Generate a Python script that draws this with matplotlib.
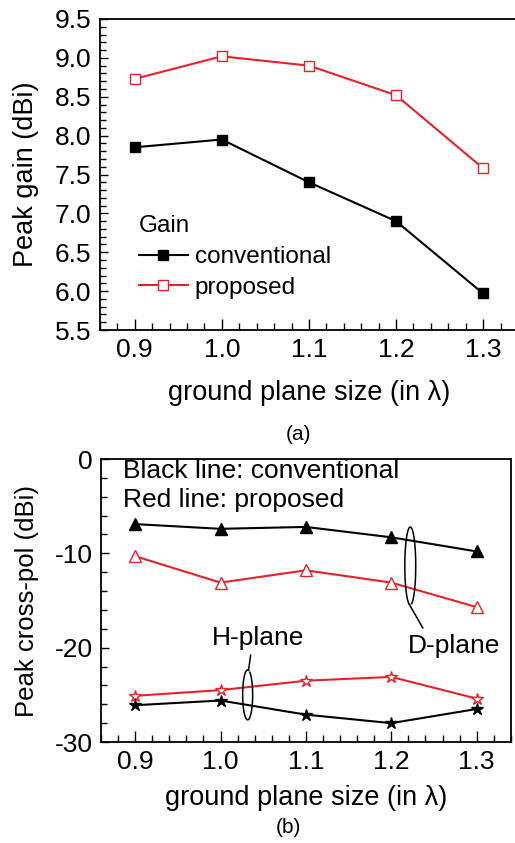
"""Peak gain and peak cross-pol versus ground plane size."""

import matplotlib
matplotlib.use("Agg")
import matplotlib.pyplot as plt
import numpy as np
from matplotlib.ticker import MultipleLocator, FormatStrFormatter

plt.rcParams["font.family"] = ["Liberation Sans", "DejaVu Sans"]
plt.rcParams["axes.unicode_minus"] = False

RED = "#e8202a"

# ground plane size in wavelengths
size = [0.9, 1.0, 1.1, 1.2, 1.3]

# peak gain (dBi)
gain_conventional = [7.85, 7.95, 7.40, 6.90, 5.97]
gain_proposed = [8.73, 9.02, 8.90, 8.52, 7.58]

# peak cross-pol (dBi)
dplane_conventional = [-6.9, -7.4, -7.2, -8.3, -9.8]
dplane_proposed = [-10.3, -13.1, -11.8, -13.1, -15.7]
hplane_conventional = [-26.1, -25.6, -27.1, -28.0, -26.5]
hplane_proposed = [-25.1, -24.5, -23.5, -23.1, -25.4]

xticks = [0.9, 1.0, 1.1, 1.2, 1.3]
xlabel = "ground plane size (in \u03bb)"


def style_axes(ax):
    ax.set_xlim(0.86, 1.34)
    ax.set_xticks(xticks)
    ax.xaxis.set_minor_locator(MultipleLocator(0.02))
    ax.xaxis.set_major_formatter(FormatStrFormatter("%.1f"))
    ax.tick_params(which="both", direction="in", top=False, right=False,
                   width=1.0, labelsize=19, pad=6)
    ax.tick_params(axis="x", which="major", length=8)
    ax.tick_params(axis="x", which="minor", length=5)
    ax.tick_params(axis="y", which="major", length=6)
    ax.tick_params(axis="y", which="minor", length=4)
    for sp in ax.spines.values():
        sp.set_linewidth(1.3)


def bracket(ax, cx, cy, a, b, t0, t1, tail_end, tail_at_start):
    # narrow loop drawn as a partial ellipse with a leader line off one end
    t = np.radians(np.linspace(t0, t1, 120))
    xs = cx + a * np.cos(t)
    ys = cy + b * np.sin(t)
    ax.plot(xs, ys, color="black", lw=1.1)
    i = 0 if tail_at_start else -1
    ax.plot([xs[i], tail_end[0]], [ys[i], tail_end[1]], color="black", lw=1.1)


fig = plt.figure(figsize=(5.15, 8.43), dpi=100)

# (a) peak gain
ax1 = fig.add_axes([0.194, 0.6085, 0.8117, 0.369])
ax1.plot(size, gain_conventional, color="black", lw=1.5, marker="s", ms=6.5,
         mfc="black", mec="black", label="conventional")
ax1.plot(size, gain_proposed, color=RED, lw=1.5, marker="s", ms=6.5,
         mfc="white", mec=RED, label="proposed")
style_axes(ax1)
ax1.set_ylim(5.5, 9.5)
ax1.yaxis.set_major_locator(MultipleLocator(0.5))
ax1.yaxis.set_minor_locator(MultipleLocator(0.1))
ax1.yaxis.set_major_formatter(FormatStrFormatter("%.1f"))
ax1.set_ylabel("Peak gain (dBi)", fontsize=19.5)
ax1.yaxis.set_label_coords(-0.145, 0.5)
ax1.set_xlabel(xlabel, fontsize=19.5, labelpad=13)
leg = ax1.legend(title="Gain", loc="lower left", bbox_to_anchor=(0.07, 0.07),
                 frameon=False, fontsize=17.5, title_fontsize=17.5,
                 handlelength=2.0, handletextpad=0.3, labelspacing=0.35,
                 borderaxespad=0)
leg._legend_box.align = "left"
fig.text(0.579, 0.484, "(a)", fontsize=15, ha="center", va="center")

# (b) peak cross-pol
ax2 = fig.add_axes([0.196, 0.1198, 0.796, 0.3357])
ax2.plot(size, dplane_conventional, color="black", lw=1.5, marker="^", ms=8,
         mfc="black", mec="black")
ax2.plot(size, dplane_proposed, color=RED, lw=1.5, marker="^", ms=8,
         mfc="white", mec=RED)
ax2.plot(size, hplane_proposed, color=RED, lw=1.5, marker="*", ms=9,
         mfc="white", mec=RED, mew=1.0)
ax2.plot(size, hplane_conventional, color="black", lw=1.5, marker="*", ms=9,
         mfc="black", mec="black")
style_axes(ax2)
ax2.set_ylim(-30, 0)
ax2.set_yticks([-30, -20, -10, 0])
ax2.yaxis.set_minor_locator(MultipleLocator(2))
ax2.set_ylabel("Peak cross-pol (dBi)", fontsize=18.5)
ax2.yaxis.set_label_coords(-0.152, 0.5)
ax2.set_xlabel(xlabel, fontsize=19.5, labelpad=8)

ax2.text(0.886, -1.3, "Black line: conventional", fontsize=19, va="center")
ax2.text(0.886, -4.3, "Red line: proposed", fontsize=19, va="center")

bracket(ax2, 1.2222, -11.34, 0.0064, 4.13, -75, 260,
        (1.2368, -17.9), tail_at_start=False)
ax2.text(1.219, -19.8, "D-plane", fontsize=19, va="center")

bracket(ax2, 1.0318, -25.0, 0.00585, 2.65, 80, 425,
        (1.0353, -20.8), tail_at_start=True)
ax2.text(0.99, -19.0, "H-plane", fontsize=19, va="center")

fig.text(0.561, 0.018, "(b)", fontsize=15, ha="center", va="center")

fig.savefig("out.png", dpi=100)
